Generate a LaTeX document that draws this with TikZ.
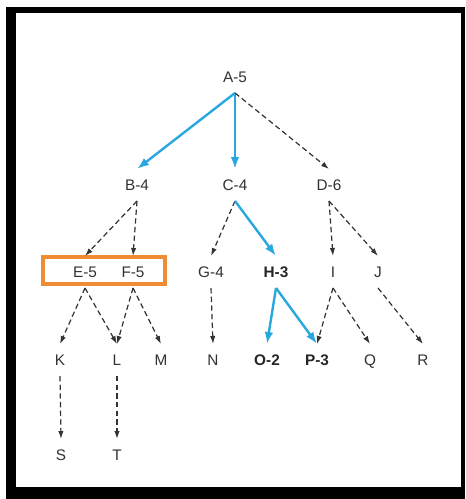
\documentclass[tikz,border=0pt]{standalone}
\usepackage{fontspec}
\setmainfont{Liberation Sans}
\usetikzlibrary{arrows.meta}
\definecolor{pathblue}{RGB}{41,168,224}
\definecolor{boxorange}{RGB}{240,140,52}
\definecolor{lblgray}{RGB}{50,50,50}

\begin{document}
\begin{tikzpicture}[x=0.75pt,y=-0.75pt,
    lbl/.style={font=\fontsize{11.5}{13}\selectfont, text=lblgray, inner sep=0pt, outer xsep=0pt, outer ysep=8pt, text height=8pt, text depth=0pt},
    hot/.style={lbl, text=black!85, font=\fontsize{11.5}{13}\selectfont\bfseries},
    arc/.style={dash pattern=on 4pt off 2.5pt, line width=0.9pt, black!80, -{Latex[length=6pt,width=4pt]}},
    best/.style={pathblue, line width=1.8pt, -{Latex[length=9pt,width=6.5pt]}}]
    \useasboundingbox (0,0) rectangle (465,499);
    % frame
    \fill[black] (6,7) rectangle (465,499);
    \fill[white] (16,13) rectangle (461,487);

    % levels of the tree
    \node[lbl] (A) at (235,77) {A-5};

    \node[lbl] (B) at (137,185) {B-4};
    \node[lbl] (C) at (235,185) {C-4};
    \node[lbl] (D) at (329,185) {D-6};

    \node[lbl] (E) at (85,272) {E-5};
    \node[lbl] (F) at (133,272) {F-5};
    \node[lbl] (G) at (211,272) {G-4};
    \node[hot] (H) at (276,272) {H-3};
    \node[lbl] (I) at (333,272) {I};
    \node[lbl] (J) at (378,272) {J};

    \node[lbl] (K) at (60,360) {K};
    \node[lbl] (L) at (117,360) {L};
    \node[lbl] (M) at (161,360) {M};
    \node[lbl] (N) at (213,360) {N};
    \node[hot] (O) at (267,360) {O-2};
    \node[hot] (P) at (317,360) {P-3};
    \node[lbl] (Q) at (370,360) {Q};
    \node[lbl] (R) at (423,360) {R};

    \node[lbl] (S) at (61,455) {S};
    \node[lbl] (T) at (117,455) {T};

    % orange box round E and F
    \draw[boxorange, line width=3pt] (43,257) rectangle (165,284);

    % edges
    \draw[best] (A.south) -- (B.north);
    \draw[best] (A.south) -- (C.north);
    \draw[arc] (A.south) -- (D.north);

    \draw[arc] (B.south) -- (E.north);
    \draw[arc] (B.south) -- (F.north);
    \draw[arc] (C.south) -- (G.north);
    \draw[best] (C.south) -- (H.north);
    \draw[arc] (D.south) -- (I.north);
    \draw[arc] (D.south) -- (J.north);

    \draw[arc] (E.south) -- (K.north);
    \draw[arc] (E.south) -- (L.north);
    \draw[arc] (F.south) -- (L.north);
    \draw[arc] (F.south) -- (M.north);
    \draw[arc] (G.south) -- (N.north);
    \draw[best] (H.south) -- (O.north);
    \draw[best] (H.south) -- (P.north);
    \draw[arc] (I.south) -- (P.north);
    \draw[arc] (I.south) -- (Q.north);
    \draw[arc] (J.south) -- (R.north);

    \draw[arc] (K.south) -- (S.north);
    \draw[arc] (L.south) -- (T.north);
\end{tikzpicture}
\end{document}
